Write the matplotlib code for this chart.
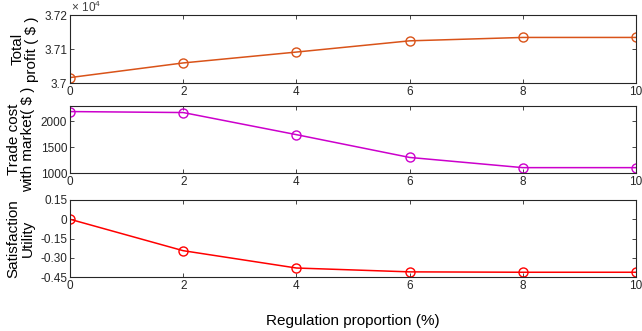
import matplotlib
matplotlib.use('Agg')
import matplotlib.pyplot as plt

plt.rcParams['font.family'] = ['Liberation Sans', 'DejaVu Sans']
plt.rcParams['mathtext.default'] = 'regular'

# regulation proportion (%)
ratio = [0, 2, 4, 6, 8, 10]
profit = [37016, 37059, 37091, 37124, 37134, 37134]
trade_cost = [2192, 2173, 1744, 1302, 1104, 1104]
utility = [0.0, -0.245, -0.38, -0.41, -0.413, -0.413]

xticks = [0, 2, 4, 6, 8, 10]
profit_ticks = [37000, 37100, 37200]
profit_ticklabels = ['3.7', '3.71', '3.72']
cost_ticks = [1000, 1500, 2000]
util_ticks = [0.15, 0, -0.15, -0.30, -0.45]
util_ticklabels = ['0.15', '0', '-0.15', '-0.30', '-0.45']

fig = plt.figure(figsize=(6.42, 3.31), dpi=100)
W, H = 642.0, 331.0

def add_panel(top, bottom):
    return fig.add_axes([70 / W, 1 - bottom / H, (636 - 70) / W, (bottom - top) / H])

def style(ax):
    ax.set_xlim(0, 10)
    ax.set_xticks(xticks)
    ax.tick_params(direction='in', top=True, right=True, length=3, width=0.6,
                   labelsize=8.5, colors='#262626', pad=2)
    for s in ax.spines.values():
        s.set_color('#262626')
        s.set_linewidth(0.8)

mk = dict(marker='o', mfc='none', ms=6.5, lw=1.1, mew=1.0)

ax1 = add_panel(15, 83)
ax1.plot(ratio, profit, color='#D95319', **mk)
ax1.set_ylim(37000, 37200)
ax1.set_yticks(profit_ticks)
ax1.set_yticklabels(profit_ticklabels)
style(ax1)
ax1.set_ylabel('Total\nprofit ( $ )', fontsize=11, labelpad=4, linespacing=1.0)
ax1.text(0.002, 1.0, r'$\times\ 10^4$', transform=ax1.transAxes, fontsize=8.5,
         color='#404040', ha='left', va='bottom')

ax2 = add_panel(106, 173)
ax2.plot(ratio, trade_cost, color='#CC00CC', **mk)
ax2.set_ylim(1000, 2300)
ax2.set_yticks(cost_ticks)
style(ax2)
ax2.set_ylabel('Trade cost\nwith market( $ )', fontsize=11, labelpad=4, linespacing=1.0)

ax3 = add_panel(200, 277)
ax3.plot(ratio, utility, color='#FF0000', **mk)
ax3.set_ylim(-0.45, 0.15)
ax3.set_yticks(util_ticks)
ax3.set_yticklabels(util_ticklabels)
style(ax3)
ax3.set_ylabel('Satisfaction\nUtility', fontsize=11, labelpad=4, linespacing=1.0)
ax3.set_xlabel('Regulation proportion (%)', fontsize=11, labelpad=16)

fig.savefig('out.png', dpi=100)
